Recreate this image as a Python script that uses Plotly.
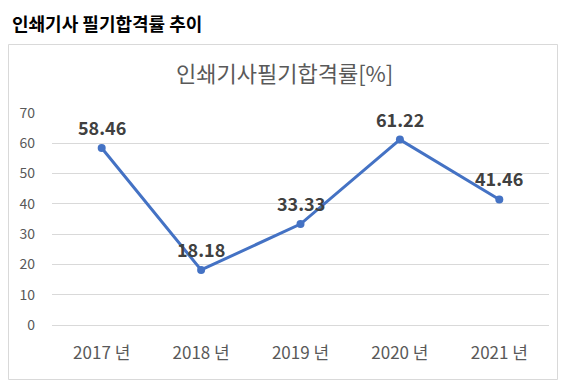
import plotly.graph_objects as go

categories = ["2017 년", "2018 년", "2019 년", "2020 년", "2021 년"]
pass_rates = [58.46, 18.18, 33.33, 61.22, 41.46]
y_ticks = [0, 10, 20, 30, 40, 50, 60, 70]

OFF = 8  # page body margin
W, H = 566 - OFF, 387 - OFF
L, R, T, B = 52 - OFF, 549 - OFF, 113 - OFF, 325 - OFF
pw, ph = R - L, B - T

def px_x(x):
    return (x - OFF - L) / pw

def px_y(y):
    return (B - (y - OFF)) / ph

FONT = "Noto Sans CJK KR"

fig = go.Figure()
fig.add_trace(go.Scatter(
    x=categories, y=pass_rates, mode="lines+markers",
    line=dict(color="#4472C4", width=3),
    marker=dict(color="#4472C4", size=8),
    hoverinfo="x+y", showlegend=False,
))

for c, v in zip(categories, pass_rates):
    fig.add_annotation(x=c, y=v, text=f"<b>{v:.2f}</b>", showarrow=False,
                       yshift=21, font=dict(family=FONT, size=18, color="#404040"))

fig.add_annotation(xref="paper", yref="paper", x=px_x(11), y=px_y(8.5),
                   xanchor="left", yanchor="top", showarrow=False,
                   text="<b>인쇄기사 필기합격률 추이</b>", borderpad=0,
                   font=dict(family=FONT, size=18, color="#000000"))
fig.add_annotation(xref="paper", yref="paper", x=px_x(284), y=px_y(72),
                   xanchor="center", yanchor="middle", showarrow=False,
                   text="인쇄기사필기합격률[%]",
                   font=dict(family=FONT, size=22, color="#595959"))

fig.add_shape(type="rect", xref="paper", yref="paper",
              x0=px_x(8.5), x1=px_x(557.5), y0=px_y(379.5), y1=px_y(44.5),
              line=dict(color="#D9D9D9", width=1), layer="below")

fig.update_xaxes(type="category", range=[-0.5, 4.5], showgrid=False,
                 showline=True, linecolor="#D9D9D9", ticks="", zeroline=False,
                 tickfont=dict(family=FONT, size=17, color="#595959"),
                 ticklabelstandoff=13)
fig.update_yaxes(range=[0, 70], tickvals=y_ticks, showgrid=True,
                 gridcolor="#D9D9D9", gridwidth=1, zeroline=False,
                 showline=False, ticks="",
                 tickfont=dict(family=FONT, size=14, color="#595959"),
                 ticklabelstandoff=16)

fig.update_layout(
    width=W, height=H,
    margin=dict(l=L, r=W - R, t=T, b=H - B),
    paper_bgcolor="white", plot_bgcolor="white",
    font=dict(family=FONT),
)

fig.write_html("out.html")
